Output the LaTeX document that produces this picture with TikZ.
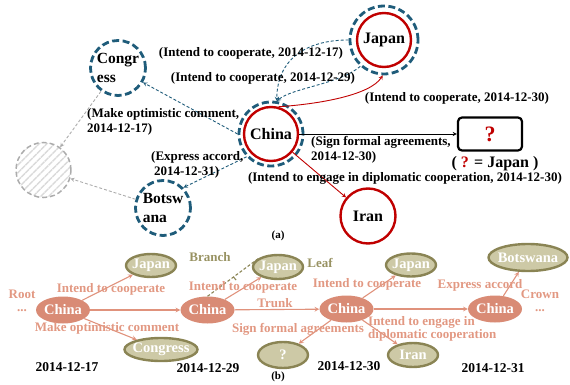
\documentclass[tikz,border=0pt]{standalone}
\usepackage{fontspec}
\setmainfont{Liberation Serif}
\usepackage{tikz}
\usetikzlibrary{patterns.meta, shapes.geometric}

\definecolor{ringteal}{RGB}{31,92,122}
\definecolor{ringred}{RGB}{192,0,0}
\definecolor{hatchgray}{RGB}{172,172,172}
\definecolor{salmonfill}{RGB}{217,139,117}
\definecolor{salmonline}{RGB}{224,146,124}
\definecolor{salmontext}{RGB}{226,152,130}
\definecolor{olivefill}{RGB}{205,201,166}
\definecolor{olivedraw}{RGB}{138,132,84}
\definecolor{olivetext}{RGB}{152,146,98}

\newcommand{\fsz}[2]{\fontsize{#1}{#2}\selectfont\bfseries}

\tikzset{
	tealring/.style={circle, draw=ringteal, line width=2.8pt, dash pattern=on 7pt off 3.5pt, minimum size=#1, inner sep=0pt},
	redring/.style={circle, draw=ringred, line width=2.4pt, minimum size=#1, inner sep=0pt, font=\fsz{16}{18}},
	hiddenring/.style={circle, draw=hatchgray, line width=1.5pt, dash pattern=on 5pt off 3pt, fill=hatchgray!15, pattern={Lines[angle=45, distance=5.5pt, line width=1.4pt]}, pattern color=hatchgray!45, minimum size=55pt, inner sep=0pt},
	tealarrow/.style={draw=ringteal, line width=0.9pt, dash pattern=on 3pt off 2pt, -stealth},
	grayarrow/.style={draw=hatchgray, line width=0.9pt, dash pattern=on 3pt off 2pt, -stealth},
	redarrow/.style={draw=ringred, line width=0.9pt, -stealth},
	lbl/.style={inner sep=0pt, font=\fsz{13}{15}},
	rootnode/.style={ellipse, fill=salmonfill, minimum width=54pt, minimum height=27pt, inner xsep=-12pt, inner ysep=0pt, text=white, font=\fsz{14.5}{16}},
	leafnode/.style={ellipse, fill=olivefill, draw=olivedraw, line width=2.4pt, inner xsep=-12pt, inner ysep=0pt, text=white, font=\fsz{14.5}{16}},
	trunkarrow/.style={draw=salmonline, line width=1.1pt, -stealth},
	salmonlbl/.style={inner sep=0pt, text=salmontext, font=\fsz{13}{13}},
	olivelbl/.style={inner sep=0pt, text=olivetext, font=\fsz{13}{14}},
	datelbl/.style={inner sep=0pt, font=\fsz{13.5}{15}}
}

\begin{document}
\begin{tikzpicture}[x=1pt, y=-1pt]
	\useasboundingbox (0,0) rectangle (570,385);

	\begin{scope}
		\node[tealring=55pt, align=left, font=\fsz{15.5}{19}] (congress) at (118,68) {Congr\\ess};
		\node[tealring=55pt, align=left, font=\fsz{15.5}{19}] (botswana) at (163,208) {Botsw\\ana};
		\node[hiddenring] (hidden) at (43.5,170) {};
		\node[tealring=64pt] (china) at (271,134) {};
		\node[redring=54pt] (chinaIn) at (china) {China};
		\node[tealring=68pt] (japan) at (384,40) {};
		\node[redring=54pt] (japanIn) at (japan) {Japan};
		\node[redring=55pt] (iran) at (368,216) {Iran};
		\node[draw, rounded corners=4pt, line width=2.2pt, minimum width=64pt, minimum height=33pt, inner sep=0pt, text=ringred, font=\fsz{22}{24}] (query) at (490,134) {?};
		\node[inner sep=0pt, font=\fsz{16}{18}] (queryAns) at (495,164) {( \textcolor{ringred}{?} = Japan )};
	\end{scope}

	\begin{scope}
		\draw[tealarrow] (china.west) -- (congress.-30);
		\draw[tealarrow] (china.223) -- (botswana.45);
		\draw[grayarrow] (congress) -- (hidden);
		\draw[grayarrow] (botswana) -- (hidden);
		\draw[tealarrow] (japan.west) .. controls (305,40) and (277,60) .. (china.80);
		\draw[tealarrow] (japan.228) .. controls (340,84) and (292,88) .. (china.80);
		\draw[redarrow] (chinaIn.75) .. controls (320,104) and (370,95) .. (japan.268);
		\draw[line width=0.9pt, -stealth] (chinaIn.east) -- (query.west);
		\draw[redarrow] (chinaIn) -- (iran);
	\end{scope}

	\begin{scope}
		\node[lbl] (lblJapanA) at (251,53) {(Intend to cooperate, 2014-12-17)};
		\node[lbl] (lblJapanB) at (263,78) {(Intend to cooperate, 2014-12-29)};
		\node[lbl] (lblJapanC) at (457,98) {(Intend to cooperate, 2014-12-30)};
		\node[lbl, anchor=west, align=left] (lblCongress) at (87,121.5) {(Make optimistic comment,\\2014-12-17)};
		\node[lbl, anchor=west, align=left] (lblBotswana) at (151,165) {(Express accord,\\\hspace*{3pt}2014-12-31)};
		\node[lbl, anchor=west, align=left] (lblQuery) at (311,150) {(Sign formal agreements,\\2014-12-30)};
		\node[lbl] (lblIran) at (405,178) {(Intend to engage in diplomatic cooperation, 2014-12-30)};
		\node[inner sep=0pt, font=\fsz{11}{12}] (capA) at (278,236) {(a)};
	\end{scope}

	\begin{scope}
		\node[rootnode] (chinaA) at (63,310) {China};
		\node[rootnode] (chinaB) at (207.5,310) {China};
		\node[rootnode] (chinaC) at (346.5,309) {China};
		\node[rootnode] (chinaD) at (495,309) {China};
		\node[leafnode, minimum width=50pt, minimum height=23pt] (japanA) at (151,265.5) {Japan};
		\node[leafnode, minimum width=50pt, minimum height=24pt] (japanB) at (278,267) {Japan};
		\node[leafnode, minimum width=50pt, minimum height=23pt] (japanC) at (411,265) {Japan};
		\node[leafnode, minimum width=79pt, minimum height=27pt] (botswanaA) at (528,257.5) {Botswana};
		\node[leafnode, minimum width=73pt, minimum height=23pt] (congressA) at (161,349.5) {Congress};
		\node[leafnode, minimum width=50pt, minimum height=26pt] (queryA) at (283,355) {?};
		\node[leafnode, minimum width=50pt, minimum height=24pt] (iranA) at (413,355) {Iran};
	\end{scope}

	\begin{scope}
		\draw[trunkarrow] (chinaA) -- (chinaB);
		\draw[trunkarrow] (chinaB) -- (chinaC);
		\draw[trunkarrow] (chinaC) -- (chinaD);
		\draw[trunkarrow] (chinaA) -- (japanA);
		\draw[trunkarrow] (chinaA) -- (congressA);
		\draw[trunkarrow] (chinaB) -- (japanB);
		\draw[trunkarrow] (chinaC) -- (japanC);
		\draw[trunkarrow] (chinaC) -- (queryA);
		\draw[trunkarrow] (chinaC) -- (iranA);
		\draw[trunkarrow] (chinaD) -- (botswanaA);
		\draw[draw=olivedraw, line width=1.1pt, dash pattern=on 3pt off 2pt] (chinaB.north) -- coordinate[pos=.5] (branchMid) (japanB.north west);
		\draw[draw=olivedraw, line width=1.1pt] (branchMid) -- ++(2.6,3.1);
	\end{scope}

	\begin{scope}
		\node[salmonlbl, align=center] (rootLbl) at (22,301) {Root\\...};
		\node[salmonlbl, align=center] (crownLbl) at (540,301) {Crown\\...};
		\node[salmonlbl] (lblA) at (111,289) {Intend to cooperate};
		\node[salmonlbl] (lblB) at (107,328) {Make optimistic comment};
		\node[salmonlbl] (lblC) at (243,287) {Intend to cooperate};
		\node[salmonlbl] (trunkLbl) at (275,303) {Trunk};
		\node[salmonlbl] (lblD) at (367,284) {Intend to cooperate};
		\node[salmonlbl] (lblE) at (298,329) {Sign formal agreements};
		\node[salmonlbl, anchor=west, align=left, font=\fsz{13}{10}] (lblF) at (368,329) {Intend to engage in\\diplomatic cooperation};
		\node[salmonlbl] (lblG) at (480,285) {Express accord};
		\node[olivelbl] (branchLbl) at (210,257) {Branch};
		\node[olivelbl] (leafLbl) at (320,263) {Leaf};
		\node[datelbl] (dateA) at (67,367) {2014-12-17};
		\node[datelbl] (dateB) at (208,368) {2014-12-29};
		\node[datelbl] (dateC) at (349,366) {2014-12-30};
		\node[datelbl] (dateD) at (493,368) {2014-12-31};
		\node[inner sep=0pt, font=\fsz{11}{12}] (capB) at (278,377) {(b)};
	\end{scope}
\end{tikzpicture}
\end{document}
